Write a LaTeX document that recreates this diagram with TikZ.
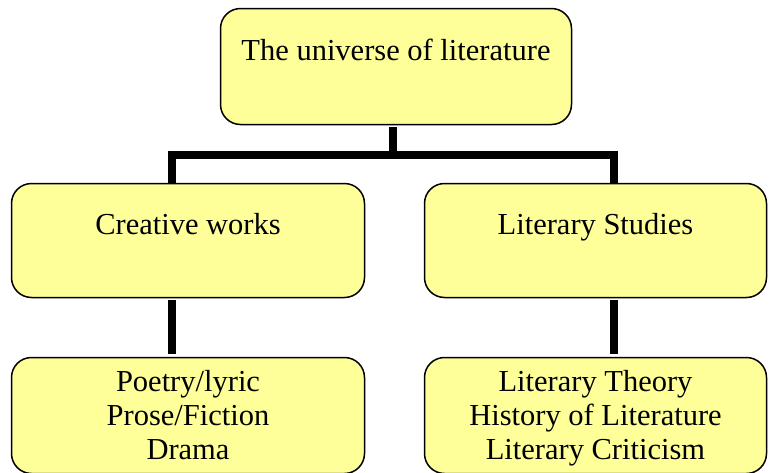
\documentclass[tikz,border=0pt]{standalone}
\usepackage{fontspec}
\setmainfont{Liberation Serif}
\usetikzlibrary{positioning}
\definecolor{boxfill}{RGB}{255,255,153}

\begin{document}
\begin{tikzpicture}[x=1pt, y=-1pt,
  box/.style={draw, rounded corners=20pt, line width=1.5pt, fill=boxfill,
    align=center, font=\fontsize{30.5}{34}\selectfont},
  head/.style={box, text height=21pt, text depth=33pt},
  list/.style={box, text height=89pt, text depth=1pt},
  link/.style={line width=7.5pt}]
  \useasboundingbox (0,0) rectangle (769,472);
  \node[head, minimum width=351pt, minimum height=116pt] (univ) at (396,66.5) {The universe of literature};
  \node[head, minimum width=353pt, minimum height=114pt] (creative) at (188,240.5) {Creative works};
  \node[head, minimum width=342pt, minimum height=114pt] (studies) at (595.5,240.5) {Literary Studies};
  \node[list, minimum width=353pt, minimum height=116pt] (genres) at (188,415.5) {Poetry/lyric\\Prose/Fiction\\Drama};
  \node[list, minimum width=342pt, minimum height=116pt] (fields) at (595.5,415.5) {Literary Theory\\History of Literature\\Literary Criticism};
  \coordinate (jt) at (393,155);
  \coordinate (jl) at (172,155);
  \coordinate (jr) at (614,155);
  \draw[link, shorten <=2pt] (univ.south -| jt) -- (jt);
  \draw[link] (creative.north -| jl) -- (jl) -- (jr) -- (studies.north -| jr);
  \draw[link, shorten <=2pt, shorten >=3pt] (creative.south -| jl) -- (genres.north -| jl);
  \draw[link, shorten <=2pt, shorten >=3pt] (studies.south -| jr) -- (fields.north -| jr);
\end{tikzpicture}
\end{document}
